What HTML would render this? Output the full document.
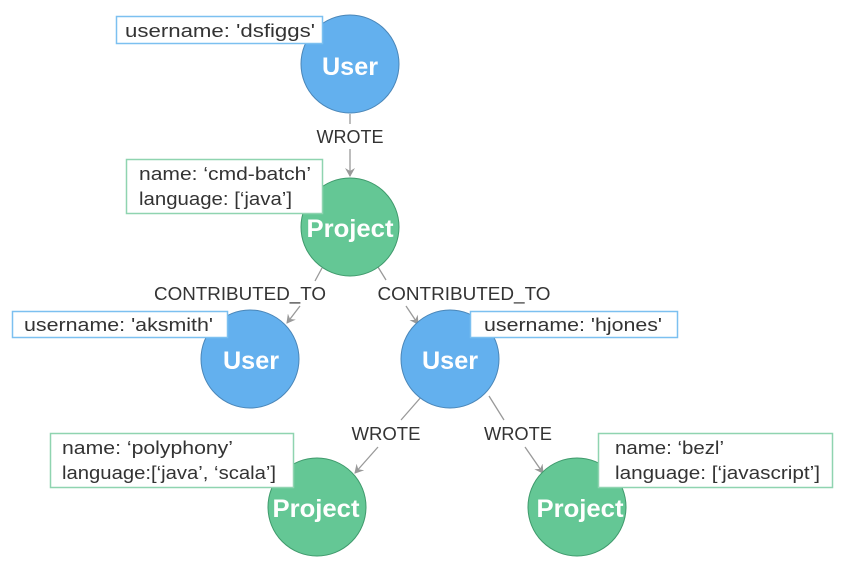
<!DOCTYPE html>
<html><head><meta charset="utf-8"><style>
html,body{margin:0;padding:0;background:#fff;}
svg{display:block;font-family:"Liberation Sans",sans-serif;}
.l{font-size:18px;fill:#333;}
.n{font-size:25px;font-weight:bold;fill:#fff;text-anchor:middle;}
.e{font-size:18px;fill:#333;text-anchor:middle;}
line{stroke:#999;stroke-width:1.3;}
</style></head><body>
<svg width="842" height="574" viewBox="0 0 842 574">
<defs><marker id="a" markerWidth="10" markerHeight="10" refX="8" refY="5" orient="auto" markerUnits="userSpaceOnUse"><path d="M0,0 L9,5 L0,10 L3,5 z" fill="#999"/></marker></defs>
<line x1="350" y1="114" x2="350" y2="124"/>
<text class="e" x="350" y="143" textLength="67" lengthAdjust="spacingAndGlyphs">WROTE</text>
<line x1="350" y1="149" x2="350" y2="176" marker-end="url(#a)"/>
<line x1="322" y1="268" x2="315" y2="281"/>
<text class="e" x="240" y="300" textLength="172" lengthAdjust="spacingAndGlyphs">CONTRIBUTED_TO</text>
<line x1="300" y1="306" x2="287" y2="323" marker-end="url(#a)"/>
<line x1="378" y1="267" x2="386" y2="280"/>
<text class="e" x="464" y="300" textLength="173" lengthAdjust="spacingAndGlyphs">CONTRIBUTED_TO</text>
<line x1="406" y1="306" x2="418" y2="324" marker-end="url(#a)"/>
<line x1="422" y1="396" x2="401" y2="420"/>
<text class="e" x="386" y="440" textLength="69" lengthAdjust="spacingAndGlyphs">WROTE</text>
<line x1="378" y1="447" x2="355" y2="473" marker-end="url(#a)"/>
<line x1="489" y1="396" x2="504" y2="420"/>
<text class="e" x="518" y="440" textLength="68" lengthAdjust="spacingAndGlyphs">WROTE</text>
<line x1="525" y1="447" x2="543" y2="473" marker-end="url(#a)"/>
<g stroke="#4a86b8" stroke-width="1" fill="#63b0ee">
<circle cx="350" cy="64" r="49"/>
<circle cx="250" cy="359" r="49"/>
<circle cx="450" cy="359" r="49"/>
</g>
<g stroke="#3f9a6c" stroke-width="1" fill="#64c795">
<circle cx="350" cy="227" r="49"/>
<circle cx="317" cy="507" r="49"/>
<circle cx="577" cy="507" r="49"/>
</g>
<text class="n" x="350" y="75" textLength="56" lengthAdjust="spacingAndGlyphs">User</text>
<text class="n" x="350" y="237" textLength="87" lengthAdjust="spacingAndGlyphs">Project</text>
<text class="n" x="251" y="369" textLength="56" lengthAdjust="spacingAndGlyphs">User</text>
<text class="n" x="450" y="369" textLength="56" lengthAdjust="spacingAndGlyphs">User</text>
<text class="n" x="316" y="517" textLength="87" lengthAdjust="spacingAndGlyphs">Project</text>
<text class="n" x="580" y="517" textLength="87" lengthAdjust="spacingAndGlyphs">Project</text>
<g fill="#fff" stroke-width="1.5">
<rect x="116.5" y="16.5" width="206" height="27" stroke="#7cc0f0"/>
<rect x="126.5" y="159.5" width="196" height="54" stroke="#8fd4b0"/>
<rect x="12.5" y="311.5" width="215" height="26" stroke="#7cc0f0"/>
<rect x="470.5" y="311.5" width="207" height="26" stroke="#7cc0f0"/>
<rect x="50.5" y="433.5" width="243" height="54" stroke="#8fd4b0"/>
<rect x="598.5" y="433.5" width="234" height="54" stroke="#8fd4b0"/>
</g>
<text class="l" x="125" y="37" textLength="190" lengthAdjust="spacingAndGlyphs">username: 'dsfiggs'</text>
<text class="l" x="139" y="180" textLength="172" lengthAdjust="spacingAndGlyphs">name: ‘cmd-batch’</text>
<text class="l" x="139" y="205" textLength="153" lengthAdjust="spacingAndGlyphs">language: [‘java’]</text>
<text class="l" x="24" y="331" textLength="189" lengthAdjust="spacingAndGlyphs">username: 'aksmith'</text>
<text class="l" x="484" y="331" textLength="178" lengthAdjust="spacingAndGlyphs">username: 'hjones'</text>
<text class="l" x="62" y="454" textLength="171" lengthAdjust="spacingAndGlyphs">name: ‘polyphony’</text>
<text class="l" x="62" y="479" textLength="214" lengthAdjust="spacingAndGlyphs">language:[‘java’, ‘scala’]</text>
<text class="l" x="615" y="454" textLength="109" lengthAdjust="spacingAndGlyphs">name: ‘bezl’</text>
<text class="l" x="615" y="479" textLength="205" lengthAdjust="spacingAndGlyphs">language: [‘javascript’]</text>
</svg>
</body></html>
